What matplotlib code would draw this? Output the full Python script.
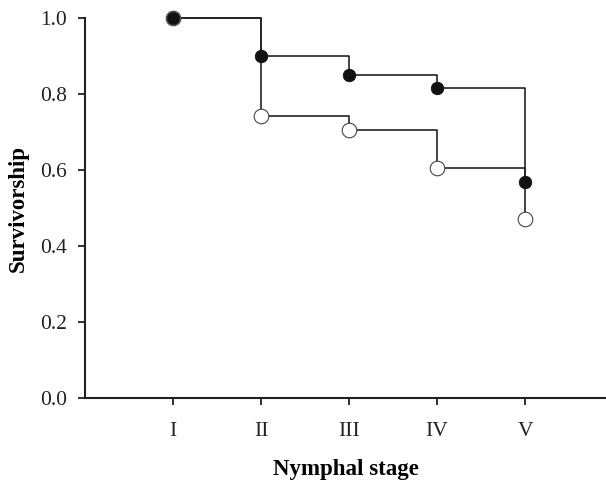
import matplotlib.pyplot as plt
import numpy as np

stages = ['I', 'II', 'III', 'IV', 'V']
filled_vals = [1.0, 0.900, 0.850, 0.816, 0.568]
open_vals = [1.0, 0.743, 0.706, 0.604, 0.472]

plt.rcParams['font.family'] = ['Liberation Serif', 'DejaVu Serif']

fig = plt.figure(figsize=(6.06, 4.8), dpi=100)
ax = fig.add_axes([85 / 606, 1 - 398 / 480, 1 - 85 / 606, 380 / 480])

x = np.arange(1, len(stages) + 1)

# step lines
ax.step(x, open_vals, where='post', color='#222222', lw=1.2, zorder=2, clip_on=False)
ax.step(x, filled_vals, where='post', color='#222222', lw=1.2, zorder=2, clip_on=False)

# markers
ax.plot(x, open_vals, 'o', ms=10.5, mfc='white', mec='#444444', mew=0.8, ls='none',
        zorder=3, clip_on=False)
ax.plot(x, filled_vals, 'o', ms=9, mfc='#111111', mec='#111111', mew=0.6, ls='none',
        zorder=4, clip_on=False)

ax.set_xlim(0, 521 / 88)
ax.set_ylim(0, 1.0)
ax.set_xticks(x)
ax.set_xticklabels(stages)
ax.set_yticks(np.arange(0, 1.01, 0.2))
ax.set_yticklabels(['%.1f' % v for v in np.arange(0, 1.01, 0.2)])

for side in ['top', 'right']:
    ax.spines[side].set_visible(False)
for side in ['left', 'bottom']:
    ax.spines[side].set_linewidth(1.5)
    ax.spines[side].set_color('#222222')

ax.tick_params(direction='out', length=5, width=1.3, labelsize=15.5, colors='#222222', pad=8)
ax.tick_params(axis='x', pad=12)

ax.set_xlabel('Nymphal stage', fontsize=16.5, fontweight='bold', labelpad=13)
ax.set_ylabel('Survivorship', fontsize=16.5, fontweight='bold', labelpad=8)

fig.savefig('out.png', dpi=100)
